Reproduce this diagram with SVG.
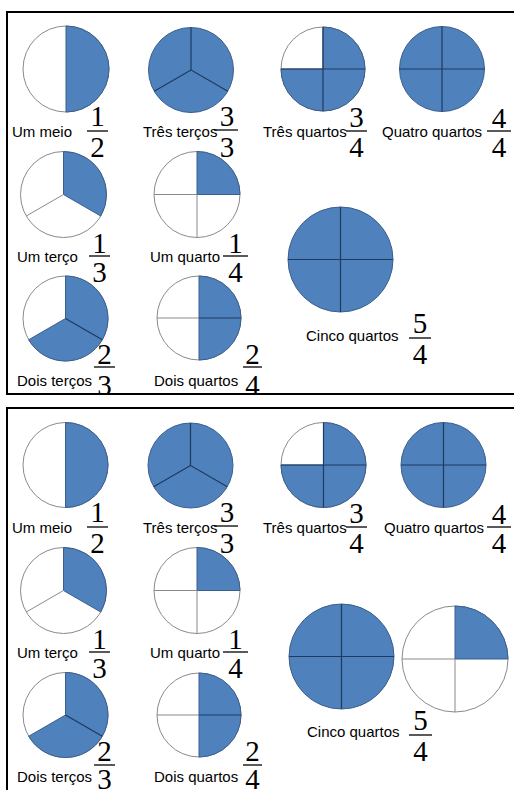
<svg xmlns="http://www.w3.org/2000/svg" width="514" height="790" viewBox="0 0 514 790">
<style>
.w{fill:#fff;stroke:#8a8a8a;stroke-width:1}
.b{fill:#4f81bd;stroke:#3b5e8c;stroke-width:1}
.dl{stroke:#1f3a5f;stroke-width:1.2;fill:none}
.gl{stroke:#8a8a8a;stroke-width:1;fill:none}
.lbl{font-family:"Liberation Sans",Arial,sans-serif;font-size:15px;fill:#000}
.n{font-family:"Liberation Serif","Times New Roman",serif;font-size:29px;text-anchor:middle;fill:#000}
.bar{stroke:#000;stroke-width:1.3}
.frame{fill:none;stroke:#000;stroke-width:2}
</style>
<rect width="514" height="790" fill="#fff"/>

<!-- ===== Top panel ===== -->
<g id="c1">
<circle class="w" cx="66" cy="69" r="43"/>
<path class="b" d="M66,26 A43,43 0 0 1 66,112 Z"/>
<text class="lbl" x="12" y="137">Um meio</text>
<text class="n" x="97.5" y="126">1</text><line class="bar" x1="87" y1="131" x2="108" y2="131"/><text class="n" x="97.5" y="157">2</text>
</g>
<g id="c2">
<circle class="b" cx="191" cy="70" r="42.5"/>
<path class="dl" d="M191,27.5 V70 L227.8,91.25 M191,70 L154.2,91.25"/>
<text class="lbl" x="143" y="137">Três terços</text>
<text class="n" x="227" y="126">3</text><line class="bar" x1="214" y1="130" x2="238" y2="130"/><text class="n" x="227" y="157">3</text>
</g>
<g id="c3">
<circle class="w" cx="323" cy="69" r="42"/>
<path class="b" d="M323,69 L323,27 A42,42 0 1 1 281,69 Z"/>
<path class="dl" d="M281,69 H365 M323,27 V111"/>
<text class="lbl" x="263" y="137">Três quartos</text>
<text class="n" x="356.5" y="127">3</text><line class="bar" x1="346" y1="131" x2="367" y2="131"/><text class="n" x="356.5" y="157">4</text>
</g>
<g id="c4">
<circle class="b" cx="442" cy="69" r="42.5"/>
<path class="dl" d="M399.5,69 H484.5 M442,26.5 V111.5"/>
<text class="lbl" x="382" y="137">Quatro quartos</text>
<text class="n" x="499" y="128">4</text><line class="bar" x1="487" y1="131" x2="511" y2="131"/><text class="n" x="499" y="157">4</text>
</g>
<g id="c5">
<circle class="w" cx="63.5" cy="194.5" r="43"/>
<path class="b" d="M63.5,194.5 L63.5,151.5 A43,43 0 0 1 100.74,216 Z"/>
<path class="gl" d="M63.5,194.5 L26.26,216"/>
<text class="lbl" x="17" y="262">Um terço</text>
<text class="n" x="99.5" y="253">1</text><line class="bar" x1="89" y1="256" x2="110" y2="256"/><text class="n" x="99.5" y="282">3</text>
</g>
<g id="c6">
<circle class="w" cx="197" cy="194.5" r="43"/>
<path class="b" d="M197,194.5 L197,151.5 A43,43 0 0 1 240,194.5 Z"/>
<path class="gl" d="M154,194.5 H197 V237.5"/>
<text class="lbl" x="150" y="262">Um quarto</text>
<text class="n" x="235.5" y="253">1</text><line class="bar" x1="223" y1="256" x2="248" y2="256"/><text class="n" x="235.5" y="282">4</text>
</g>
<g id="c7">
<circle class="w" cx="65.5" cy="318.5" r="42.5"/>
<path class="b" d="M65.5,318.5 L65.5,276 A42.5,42.5 0 1 1 28.69,339.75 Z"/>
<path class="dl" d="M65.5,318.5 L102.31,339.75"/>
<text class="lbl" x="17" y="386">Dois terços</text>
<text class="n" x="104.5" y="364">2</text><line class="bar" x1="94" y1="367" x2="115" y2="367"/><text class="n" x="104.5" y="395">3</text>
</g>
<g id="c8">
<circle class="w" cx="199" cy="318" r="42"/>
<path class="b" d="M199,276 A42,42 0 0 1 199,360 Z"/>
<path class="gl" d="M157,318 H199"/>
<path class="dl" d="M199,318 H241"/>
<text class="lbl" x="154" y="386">Dois quartos</text>
<text class="n" x="252.5" y="364">2</text><line class="bar" x1="243" y1="367" x2="262" y2="367"/><text class="n" x="252.5" y="395">4</text>
</g>
<g id="c9">
<circle class="b" cx="340.5" cy="259.5" r="52.5"/>
<path class="dl" d="M288,259.5 H393 M340.5,207 V312"/>
<text class="lbl" x="306" y="341">Cinco quartos</text>
<text class="n" x="420" y="333">5</text><line class="bar" x1="409" y1="338" x2="431" y2="338"/><text class="n" x="420" y="364">4</text>
</g>

<!-- ===== Bottom panel ===== -->
<g id="d1">
<circle class="w" cx="65.5" cy="465" r="42.5"/>
<path class="b" d="M65.5,422.5 A42.5,42.5 0 0 1 65.5,507.5 Z"/>
<text class="lbl" x="12" y="533">Um meio</text>
<text class="n" x="97.5" y="522">1</text><line class="bar" x1="87" y1="527" x2="108" y2="527"/><text class="n" x="97.5" y="553">2</text>
</g>
<g id="d2">
<circle class="b" cx="190.5" cy="465.5" r="42.5"/>
<path class="dl" d="M190.5,423 V465.5 L227.31,486.75 M190.5,465.5 L153.69,486.75"/>
<text class="lbl" x="143" y="533">Três terços</text>
<text class="n" x="227" y="522">3</text><line class="bar" x1="214" y1="526" x2="238" y2="526"/><text class="n" x="227" y="553">3</text>
</g>
<g id="d3">
<circle class="w" cx="323.5" cy="465" r="42.5"/>
<path class="b" d="M323.5,465 L323.5,422.5 A42.5,42.5 0 1 1 281,465 Z"/>
<path class="dl" d="M281,465 H366 M323.5,422.5 V507.5"/>
<text class="lbl" x="263" y="533">Três quartos</text>
<text class="n" x="356.5" y="523">3</text><line class="bar" x1="346" y1="527" x2="367" y2="527"/><text class="n" x="356.5" y="553">4</text>
</g>
<g id="d4">
<circle class="b" cx="443.5" cy="465" r="42.5"/>
<path class="dl" d="M401,465 H486 M443.5,422.5 V507.5"/>
<text class="lbl" x="384" y="533">Quatro quartos</text>
<text class="n" x="499" y="524">4</text><line class="bar" x1="487" y1="527" x2="511" y2="527"/><text class="n" x="499" y="553">4</text>
</g>
<g id="d5">
<circle class="w" cx="63.5" cy="590.5" r="43"/>
<path class="b" d="M63.5,590.5 L63.5,547.5 A43,43 0 0 1 100.74,612 Z"/>
<path class="gl" d="M63.5,590.5 L26.26,612"/>
<text class="lbl" x="17" y="658">Um terço</text>
<text class="n" x="99.5" y="649">1</text><line class="bar" x1="89" y1="652" x2="110" y2="652"/><text class="n" x="99.5" y="678">3</text>
</g>
<g id="d6">
<circle class="w" cx="197" cy="590.5" r="43"/>
<path class="b" d="M197,590.5 L197,547.5 A43,43 0 0 1 240,590.5 Z"/>
<path class="gl" d="M154,590.5 H197 V633.5"/>
<text class="lbl" x="150" y="658">Um quarto</text>
<text class="n" x="235.5" y="649">1</text><line class="bar" x1="223" y1="652" x2="248" y2="652"/><text class="n" x="235.5" y="678">4</text>
</g>
<g id="d7">
<circle class="w" cx="65.5" cy="715" r="42.5"/>
<path class="b" d="M65.5,715 L65.5,672.5 A42.5,42.5 0 1 1 28.69,736.25 Z"/>
<path class="dl" d="M65.5,715 L102.31,736.25"/>
<text class="lbl" x="17" y="782">Dois terços</text>
<text class="n" x="104.5" y="761">2</text><line class="bar" x1="94" y1="765" x2="115" y2="765"/><text class="n" x="104.5" y="789">3</text>
</g>
<g id="d8">
<circle class="w" cx="199" cy="715" r="42"/>
<path class="b" d="M199,673 A42,42 0 0 1 199,757 Z"/>
<path class="gl" d="M157,715 H199"/>
<path class="dl" d="M199,715 H241"/>
<text class="lbl" x="154" y="782">Dois quartos</text>
<text class="n" x="252.5" y="761">2</text><line class="bar" x1="243" y1="765" x2="262" y2="765"/><text class="n" x="252.5" y="789">4</text>
</g>
<g id="d9">
<circle class="b" cx="341.5" cy="656.5" r="52.5"/>
<path class="dl" d="M289,656.5 H394 M341.5,604 V709"/>
<text class="lbl" x="307" y="737">Cinco quartos</text>
<text class="n" x="420.5" y="730">5</text><line class="bar" x1="409" y1="735" x2="432" y2="735"/><text class="n" x="420.5" y="761">4</text>
</g>
<g id="d10">
<circle class="w" cx="455" cy="659" r="53"/>
<path class="b" d="M455,659 L455,606 A53,53 0 0 1 508,659 Z"/>
<path class="gl" d="M402,659 H455 V712"/>
</g>

<g id="connectors">
<path class="frame" d="M514,12 H7 V394 H514"/>
<path class="frame" d="M514,408 H7 V790"/>
</g>
</svg>
